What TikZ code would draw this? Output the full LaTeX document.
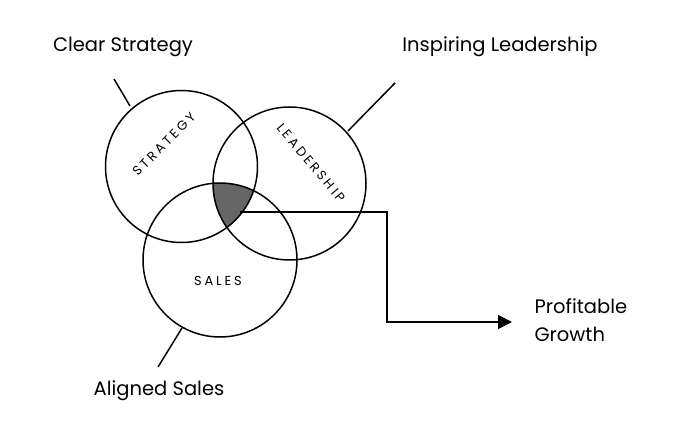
\documentclass[tikz,border=0pt]{standalone}
\usepackage{fontspec}
\setmainfont{Poppins}
\usetikzlibrary{arrows.meta}
\begin{document}
\begin{tikzpicture}[x=1pt,y=-1pt,
  circ/.style={draw,line width=1.5pt},
  lbl/.style={font=\fontsize{19.5}{28}\selectfont},
  clbl/.style={font=\fontsize{13}{15}\selectfont\addfontfeatures{LetterSpace=22}},
  conn/.style={line width=1.5pt}]
\useasboundingbox (0,0) rectangle (674,443);
\coordinate (cs) at (181.5,166.5);
\coordinate (cl) at (289.5,183.5);
\coordinate (ca) at (220,260);
\begin{scope}
\clip (cs) circle (76);
\clip (cl) circle (76.5);
\fill[black!60] (ca) circle (77);
\end{scope}
\draw[circ] (cs) circle (76);
\draw[circ] (cl) circle (76.5);
\draw[circ] (ca) circle (77);
\node[clbl,rotate=45] (ts) at (164,144) {STRATEGY};
\node[clbl,rotate=-50] (tl) at (311,163) {LEADERSHIP};
\node[clbl] (ta) at (218,281) {SALES};
\node[lbl] (ls) at (123,47) {Clear Strategy};
\node[lbl] (ll) at (500,47) {Inspiring Leadership};
\node[lbl] (la) at (159,391) {Aligned Sales};
\node[lbl,align=left,anchor=west] (lg) at (531,320) {Profitable\\Growth};
\coordinate (s1) at (130,106); \coordinate (s2) at (114,79);
\coordinate (l1) at (348,131); \coordinate (l2) at (395,83);
\coordinate (a1) at (182,328); \coordinate (a2) at (158,367);
\draw[conn] (s1) -- (s2);
\draw[conn] (l1) -- (l2);
\draw[conn] (a1) -- (a2);
\coordinate (g0) at (240,212);
\coordinate (g1) at (387,212);
\coordinate (g2) at (387,322);
\coordinate (g3) at (512,322);
\draw[conn,-{Triangle[length=14pt,width=14pt]}] (g0) -- (g1) -- (g2) -- (g3);
\end{tikzpicture}
\end{document}
